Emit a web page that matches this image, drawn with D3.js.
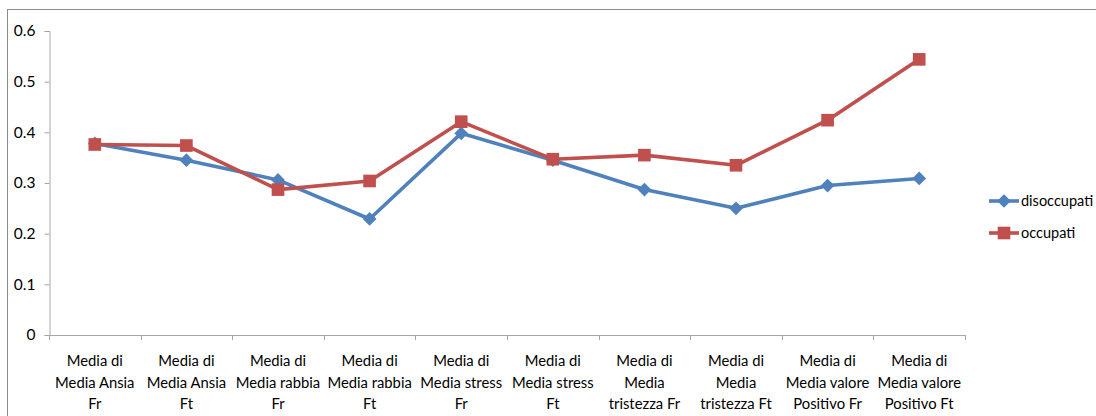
<!DOCTYPE html>
<html>
<head>
<meta charset="utf-8">
<script src="https://cdn.jsdelivr.net/npm/d3@7"></script>
<style>
  html, body { margin: 0; padding: 0; background: #fff; }
  svg { display: block; }
  text { font-family: Lato, "Open Sans", "Liberation Sans", Arial, sans-serif; fill: #000; }
</style>
</head>
<body>
<svg id="chart" width="1096" height="416"></svg>
<script>
const categories = [
  ["Media di", "Media Ansia", "Fr"],
  ["Media di", "Media Ansia", "Ft"],
  ["Media di", "Media rabbia", "Fr"],
  ["Media di", "Media rabbia", "Ft"],
  ["Media di", "Media stress", "Fr"],
  ["Media di", "Media stress", "Ft"],
  ["Media di", "Media", "tristezza Fr"],
  ["Media di", "Media", "tristezza Ft"],
  ["Media di", "Media valore", "Positivo Fr"],
  ["Media di", "Media valore", "Positivo Ft"]
];
const disoccupati = [0.378, 0.345, 0.306, 0.229, 0.398, 0.345, 0.287, 0.250, 0.295, 0.309];
const occupati    = [0.376, 0.374, 0.287, 0.304, 0.421, 0.347, 0.355, 0.335, 0.424, 0.544];
const yTicks = [0, 0.1, 0.2, 0.3, 0.4, 0.5, 0.6];
const seriesNames = ["disoccupati", "occupati"];

const svg = d3.select("#chart");
const colors = { disoccupati: "#4F81BD", occupati: "#C0504D" };

// outer chart frame
svg.append("rect")
  .attr("x", 7.5).attr("y", 9.5)
  .attr("width", 1200).attr("height", 500)
  .attr("fill", "none").attr("stroke", "#8c8c8c").attr("stroke-width", 1);

const plot = { left: 49, right: 965, top: 31, bottom: 335 };

const x = d3.scaleBand()
  .domain(d3.range(categories.length))
  .range([plot.left, plot.right])
  .paddingInner(0).paddingOuter(0);

const y = d3.scaleLinear().domain([0, 0.6]).range([plot.bottom, plot.top]);

// y axis
const yAxis = svg.append("g")
  .attr("transform", `translate(${plot.left + 0.5},0)`)
  .call(d3.axisLeft(y).tickValues(yTicks).tickSize(5).tickPadding(9)
    .tickFormat(d => d === 0 ? "0" : d3.format(".1f")(d)));
yAxis.selectAll("path, line").attr("stroke", "#a6a6a6");
yAxis.selectAll("text").attr("font-size", 15.5).attr("fill", "#000");

// x axis line and category ticks at band boundaries
const xg = svg.append("g");
xg.append("line")
  .attr("x1", plot.left).attr("x2", plot.right)
  .attr("y1", plot.bottom + 0.5).attr("y2", plot.bottom + 0.5)
  .attr("stroke", "#a6a6a6");
const bounds = d3.range(categories.length + 1).map(i => i < categories.length ? x(i) : x(categories.length - 1) + x.bandwidth());
xg.selectAll("line.tick").data(bounds).join("line")
  .attr("class", "tick")
  .attr("x1", d => Math.round(d) + 0.5).attr("x2", d => Math.round(d) + 0.5)
  .attr("y1", plot.bottom).attr("y2", plot.bottom + 5)
  .attr("stroke", "#a6a6a6");

// category labels (three lines each)
const lab = xg.selectAll("text.cat").data(categories).join("text")
  .attr("class", "cat")
  .attr("text-anchor", "middle")
  .attr("font-size", 14.8)
  .attr("transform", (d, i) => `translate(${x(i) + x.bandwidth() / 2},${plot.bottom})`);
lab.selectAll("tspan").data(d => d).join("tspan")
  .attr("x", 0)
  .attr("y", (d, i) => 31 + i * 21.5)
  .text(d => d);

// series lines and markers
const cx = i => x(i) + x.bandwidth() / 2;
const line = d3.line().x((d, i) => cx(i)).y(d => y(d));

const diamond = d3.symbol().type(d3.symbolDiamond2).size(120);
const square = d3.symbol().type(d3.symbolSquare).size(160);

function drawSeries(values, name, sym) {
  svg.append("path")
    .datum(values)
    .attr("d", line)
    .attr("fill", "none")
    .attr("stroke", colors[name])
    .attr("stroke-width", 3.6)
    .attr("stroke-linejoin", "round");
  svg.selectAll(null).data(values).join("path")
    .attr("d", sym)
    .attr("transform", (d, i) => `translate(${cx(i)},${y(d)})`)
    .attr("fill", colors[name]);
}
drawSeries(disoccupati, "disoccupati", diamond);
drawSeries(occupati, "occupati", square);

// legend
const legend = svg.append("g").attr("transform", "translate(989,0)");
const legendRows = [
  { name: seriesNames[0], y: 201, sym: diamond },
  { name: seriesNames[1], y: 233, sym: square }
];
legendRows.forEach(r => {
  legend.append("line")
    .attr("x1", 0).attr("x2", 30)
    .attr("y1", r.y).attr("y2", r.y)
    .attr("stroke", colors[r.name]).attr("stroke-width", 3.6);
  legend.append("path")
    .attr("d", r.sym)
    .attr("transform", `translate(15,${r.y})`)
    .attr("fill", colors[r.name]);
  legend.append("text")
    .attr("x", 32).attr("y", r.y + 5)
    .attr("font-size", 14.5)
    .text(r.name);
});
</script>
</body>
</html>
